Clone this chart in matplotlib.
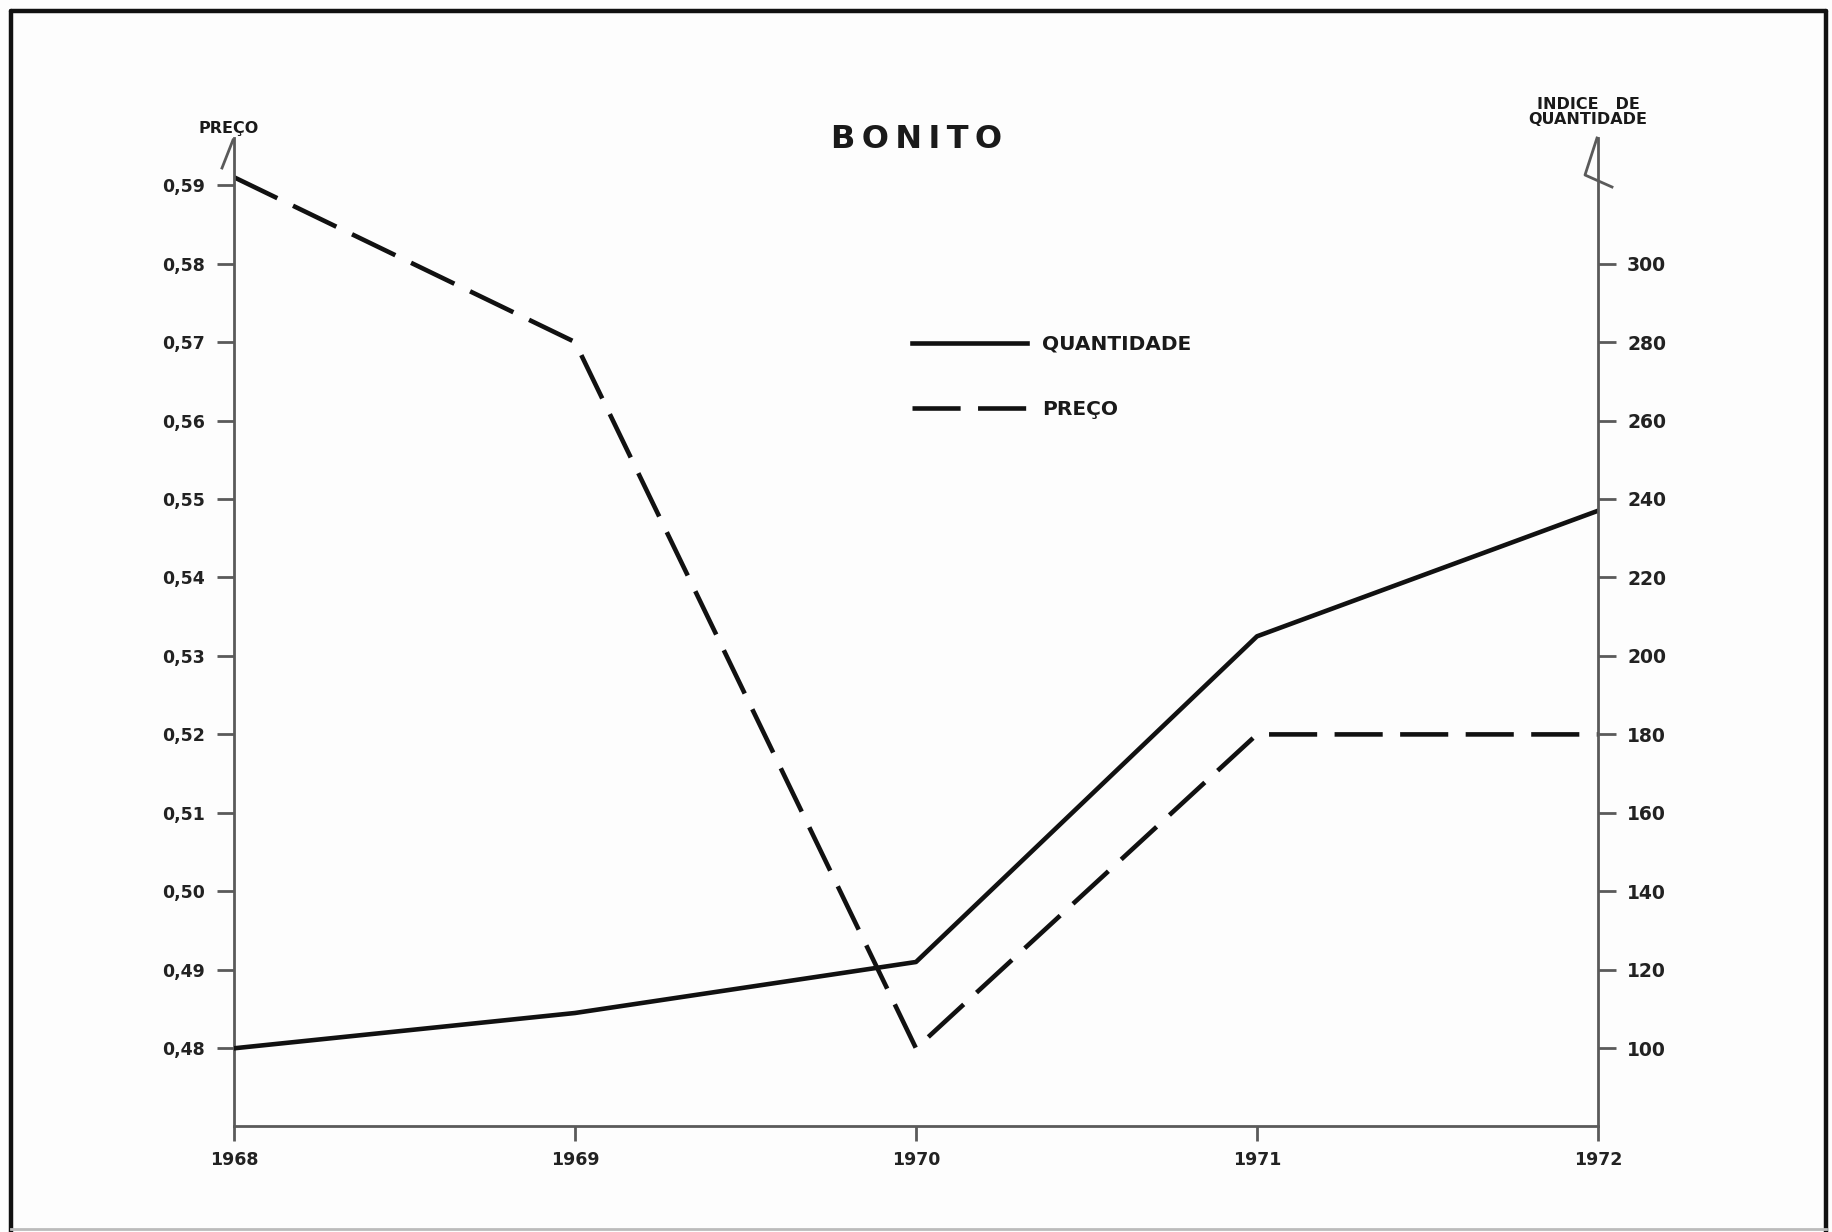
import matplotlib; matplotlib.use("Agg")
import matplotlib.pyplot as plt
from matplotlib.lines import Line2D

# ---- data ------------------------------------------------------------------
anos = [1968, 1969, 1970, 1971, 1972]
preco = [0.591, 0.570, 0.480, 0.520, 0.520]          # left axis
quantidade = [100, 109, 122, 205, 237]               # right axis (índice)
preco_ticks = [0.48, 0.49, 0.50, 0.51, 0.52, 0.53, 0.54, 0.55, 0.56, 0.57, 0.58, 0.59]
quant_ticks = [100, 120, 140, 160, 180, 200, 220, 240, 260, 280, 300]

W, H = 1833, 1232
def fx(px): return px / W
def fy(py): return 1 - py / H

AX_COL = "#5a5a5a"
plt.rcParams["font.family"] = ["DejaVu Sans"]

fig = plt.figure(figsize=(W / 100, H / 100), dpi=100, facecolor="#fdfdfd")

# outer frame of the original sheet
fr = dict(transform=fig.transFigure, color="#111111", lw=3.2, solid_capstyle="round")
fig.add_artist(Line2D([fx(11), fx(1826)], [fy(11), fy(11)], **fr))
fig.add_artist(Line2D([fx(11), fx(11)], [fy(11), fy(1232)], **fr))
fig.add_artist(Line2D([fx(1826), fx(1826)], [fy(11), fy(1232)], **fr))
fig.add_artist(Line2D([fx(11), fx(1826)], [fy(1229), fy(1229)], transform=fig.transFigure,
                      color="#bbbbbb", lw=2))

ax = fig.add_axes([fx(234), fy(1126), fx(1598) - fx(234), fy(138) - fy(1126)])
ax.set_facecolor("none")
ax2 = ax.twinx()

ax.plot(anos, preco, color="#111111", lw=3.3, dashes=(10.5, 3.8), label="PREÇO")
ax2.plot(anos, quantidade, color="#111111", lw=3.3, label="QUANTIDADE")

ax.set_xlim(1968, 1972)
ax.set_ylim(0.4701, 0.5960)
ax2.set_ylim(100 + (0.4701 - 0.48) * 2000, 100 + (0.5960 - 0.48) * 2000)

ax.set_xticks(anos)
ax.set_xticklabels([str(a) for a in anos])
ax.set_yticks(preco_ticks)
ax.set_yticklabels([f"{v:.2f}".replace(".", ",") for v in preco_ticks])
ax2.set_yticks(quant_ticks)
ax2.set_yticklabels([str(v) for v in quant_ticks])

for a in (ax, ax2):
    a.spines["top"].set_visible(False)
    for s in a.spines.values():
        s.set_color(AX_COL); s.set_linewidth(2)
ax2.spines["left"].set_visible(False); ax2.spines["bottom"].set_visible(False)
ax.spines["right"].set_visible(False)
ax2.spines["right"].set_visible(True)

ax.tick_params(axis="y", direction="out", length=12, width=2, color=AX_COL, pad=9,
               labelsize=12.5, labelcolor="#222222")
ax.tick_params(axis="x", direction="out", length=11, width=2, color=AX_COL, pad=7,
               labelsize=12.5, labelcolor="#222222")
ax2.tick_params(axis="y", direction="out", length=13, width=2, color=AX_COL, pad=8,
                labelsize=13.5, labelcolor="#222222")
for lab in ax.get_xticklabels() + ax.get_yticklabels() + ax2.get_yticklabels():
    lab.set_fontweight("bold")

# little arrow heads drawn on top of both vertical axes
arr = dict(transform=fig.transFigure, color=AX_COL, lw=2)
fig.add_artist(Line2D([fx(233), fx(222)], [fy(140), fy(168)], **arr))
fig.add_artist(Line2D([fx(1597), fx(1585), fx(1612)], [fy(138), fy(175), fy(187)], **arr))

# titles / axis captions
fig.text(fx(917), fy(139), "B\u2009O\u2009N\u2009I\u2009T\u2009O", ha="center", va="center",
         fontsize=23, fontweight="bold", color="#1a1a1a")
fig.text(fx(229), fy(128), "PREÇO", ha="center", va="center", fontsize=11.5,
         fontweight="bold", color="#1a1a1a")
fig.text(fx(1588), fy(112), "INDICE   DE\nQUANTIDADE", ha="center", va="center",
         fontsize=11.5, fontweight="bold", color="#1a1a1a", linespacing=1.05)

# legend
h1, l1 = ax2.get_legend_handles_labels()
h0, l0 = ax.get_legend_handles_labels()
leg = fig.legend(h1 + h0, l1 + l0, loc="upper left", bbox_to_anchor=(fx(912), fy(335)),
                 frameon=False, borderpad=0, borderaxespad=0, handlelength=5.7,
                 handletextpad=0.75, labelspacing=2.3,
                 prop=dict(size=14.5, weight="bold"))
for t in leg.get_texts():
    t.set_color("#1a1a1a")

fig.savefig("out.png", dpi=100, facecolor=fig.get_facecolor())
